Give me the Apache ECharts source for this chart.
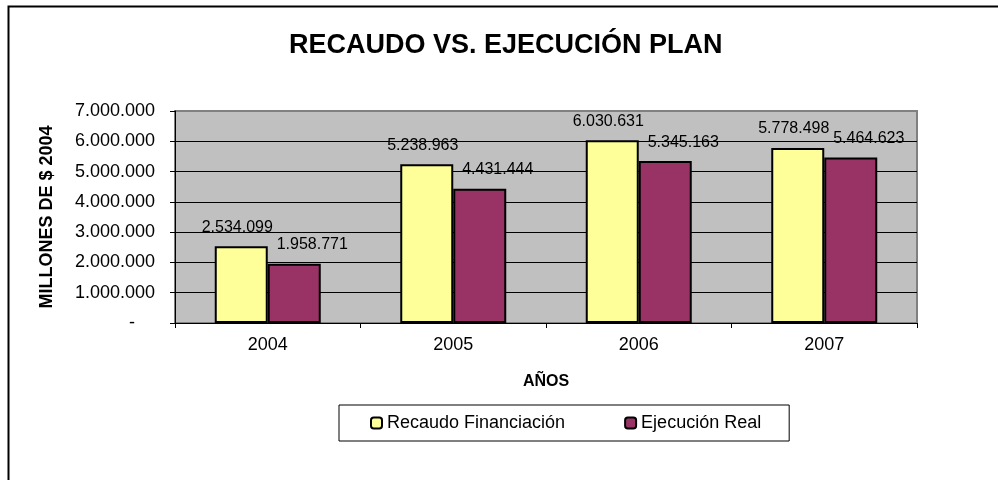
<!DOCTYPE html>
<html>
<head>
<meta charset="utf-8">
<script src="https://cdn.jsdelivr.net/npm/echarts@6/dist/echarts.min.js"></script>
<style>
  html, body { margin: 0; padding: 0; background: #fff; }
  #chart { width: 998px; height: 480px; }
</style>
</head>
<body>
<div id="chart"></div>
<script>
var years = ['2004', '2005', '2006', '2007'];
var recaudo = [2534099, 5238963, 6030631, 5778498];
var ejecucion = [1958771, 4431444, 5345163, 5464623];
var seriesNames = ['Recaudo Financiación', 'Ejecución Real'];

var fontFamily = 'Liberation Sans, Arial, sans-serif';

// formato con puntos de miles, como en el original
function miles(v) {
	return String(Math.round(v)).replace(/\B(?=(\d{3})+(?!\d))/g, '.');
}

var chart = echarts.init(document.getElementById('chart'));

var option = {
	backgroundColor: '#fff',
	animation: false,
	textStyle: { fontFamily: fontFamily, color: '#000' },
	title: {
		text: 'RECAUDO VS. EJECUCIÓN PLAN',
		left: 284,
		top: 27,
		textStyle: { fontSize: 27, fontWeight: 'bold', color: '#000', fontFamily: fontFamily }
	},
	graphic: [{
		type: 'rect',
		left: 6, top: 4,
		shape: { width: 1100, height: 600 },
		style: { fill: 'none', stroke: '#000', lineWidth: 2 },
		silent: true
	}],
	legend: {
		left: 339,
		top: 405,
		padding: [9, 28, 9, 31],
		itemGap: 59,
		itemWidth: 11,
		itemHeight: 11,
		borderColor: '#000',
		borderWidth: 1,
		textStyle: { fontSize: 18, color: '#000', fontFamily: fontFamily },
		data: seriesNames
	},
	grid: {
		left: 175,
		right: 81,
		top: 111,
		bottom: 157,
		show: true,
		backgroundColor: '#C0C0C0',
		borderColor: '#808080',
		borderWidth: 2
	},
	xAxis: {
		type: 'category',
		data: years,
		name: 'AÑOS',
		nameLocation: 'middle',
		nameGap: 51,
		nameTextStyle: { fontSize: 16, fontWeight: 'bold', color: '#000' },
		axisLine: { lineStyle: { color: '#000', width: 1 } },
		axisTick: { show: true, length: 5, lineStyle: { color: '#000' } },
		axisLabel: { fontSize: 18, color: '#000', margin: 13 }
	},
	yAxis: {
		type: 'value',
		min: 0,
		max: 7000000,
		interval: 1000000,
		name: 'MILLONES DE $ 2004',
		nameLocation: 'middle',
		nameGap: 119,
		nameTextStyle: { fontSize: 18, fontWeight: 'bold', color: '#000' },
		axisLine: { show: true, lineStyle: { color: '#000', width: 1 } },
		axisTick: { show: true, length: 5, lineStyle: { color: '#000' } },
		axisLabel: {
			fontSize: 18,
			color: '#000',
			margin: 20,
			formatter: function (v) {
				return v === 0 ? '{dash|-}' : miles(v);
			},
			rich: { dash: { fontSize: 18, padding: [0, 20, 0, 0] } }
		},
		splitLine: {
			lineStyle: {
				color: ['#000', '#000', '#000', '#000', '#000', '#000', '#000', '#808080'],
				width: 1
			}
		}
	},
	series: [
		{
			name: seriesNames[0],
			type: 'bar',
			data: recaudo,
			barWidth: 53,
			barGap: '0%',
			itemStyle: { color: '#FFFF99', borderColor: '#000', borderWidth: 2 },
			label: {
				show: true,
				position: 'top',
				distance: 11,
				offset: [-4, 0],
				fontSize: 16,
				color: '#000',
				formatter: function (p) { return miles(p.value); }
			}
		},
		{
			name: seriesNames[1],
			type: 'bar',
			data: ejecucion,
			barWidth: 53,
			barGap: '0%',
			itemStyle: { color: '#993366', borderColor: '#000', borderWidth: 2 },
			label: {
				show: true,
				position: 'top',
				distance: 11,
				offset: [18, 0],
				fontSize: 16,
				color: '#000',
				formatter: function (p) { return miles(p.value); }
			}
		}
	]
};

chart.setOption(option);
</script>
</body>
</html>
